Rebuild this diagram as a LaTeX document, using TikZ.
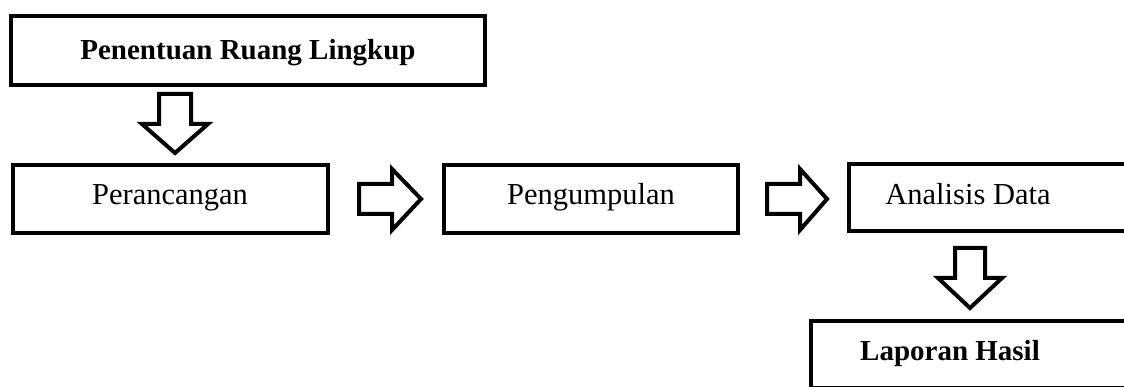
\documentclass[tikz,border=0pt]{standalone}
\usepackage{fontspec}
\setmainfont{Liberation Serif}
\tikzset{
  stepbox/.style={draw=black, line width=4.2pt, line join=miter, fill=white},
  blockarrow/.style={draw=black, line width=4pt, line join=miter, miter limit=10, fill=white},
  plainlabel/.style={font=\fontsize{30.5}{36}\selectfont, inner sep=0pt, anchor=base},
  boldlabel/.style={font=\fontsize{29}{34}\selectfont\bfseries, inner sep=0pt, anchor=base},
}
\begin{document}
\begin{tikzpicture}[x=1pt, y=-1pt]
\useasboundingbox (0,0) rectangle (1124,387);
\clip (0,0) rectangle (1124,387);

% process boxes
\draw[stepbox] (11,16) rectangle (485,85);
\draw[stepbox] (13,165) rectangle (328,233);
\draw[stepbox] (444,165) rectangle (738,233);
\draw[stepbox] (849,164) rectangle (1150,231);
\draw[stepbox] (811,321) rectangle (1150,388.4);

% labels
\node[boldlabel]  (scope)   at (248,60)  {Penentuan Ruang Lingkup};
\node[plainlabel] (design)  at (170,205) {Perancangan};
\node[plainlabel] (collect) at (591,205) {Pengumpulan};
\node[plainlabel] (analyse) at (968,205) {Analisis Data};
\node[boldlabel]  (report)  at (950,360) {Laporan Hasil};

% block arrows between the stages
\draw[blockarrow] (159,94) -- (191,94) -- (191,124) -- (208,124) -- (175,153)
  -- (142,124) -- (159,124) -- cycle;
\draw[blockarrow] (359,184) -- (392,184) -- (392,169) -- (421,199) -- (392,230)
  -- (392,214) -- (359,214) -- cycle;
\draw[blockarrow] (767,184) -- (800,184) -- (800,169) -- (827,199) -- (800,230)
  -- (800,214) -- (767,214) -- cycle;
\draw[blockarrow] (955,248) -- (985,248) -- (985,278) -- (1002,278) -- (970,308)
  -- (938,278) -- (955,278) -- cycle;
\end{tikzpicture}
\end{document}
